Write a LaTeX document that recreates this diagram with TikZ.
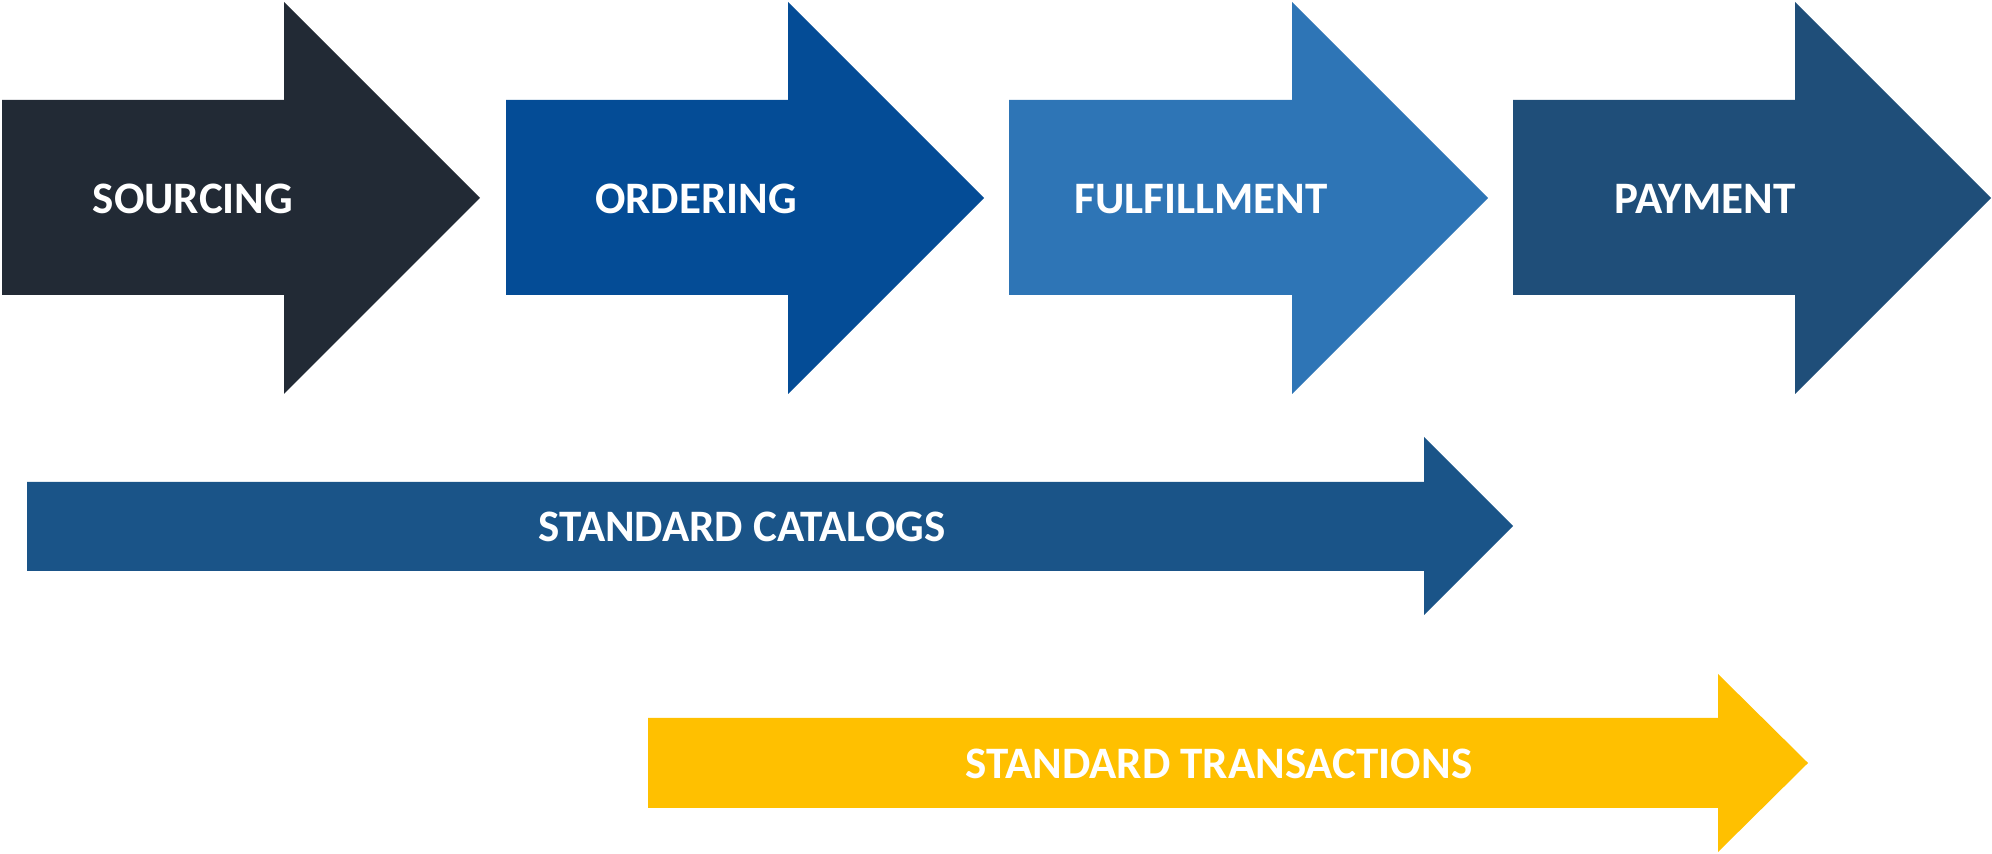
\documentclass[tikz,border=0pt]{standalone}
\usepackage{fontspec}
\setmainfont{Carlito}
\usepackage{tikz}

\definecolor{cSourcing}{HTML}{222A35}
\definecolor{cOrdering}{HTML}{044C96}
\definecolor{cFulfil}{HTML}{2E75B6}
\definecolor{cPayment}{HTML}{1F4E79}
\definecolor{cCatalog}{HTML}{1A5488}
\definecolor{cTrans}{HTML}{FFC000}

\begin{document}
\begin{tikzpicture}[x=0.5pt,y=-0.5pt,
	lbl/.style={text=white,inner sep=0pt,font=\fontsize{22.5}{27}\bfseries\selectfont}]

	\useasboundingbox (0,0) rectangle (1992,854);

	% process arrows
	\fill[cSourcing] (2,100) -- (284,100) -- (284,2) -- (480,198) -- (284,394) -- (284,295) -- (2,295) -- cycle;
	\fill[cOrdering] (506,100) -- (788,100) -- (788,2) -- (984,198) -- (788,394) -- (788,295) -- (506,295) -- cycle;
	\fill[cFulfil] (1009,100) -- (1292,100) -- (1292,2) -- (1488,198) -- (1292,394) -- (1292,295) -- (1009,295) -- cycle;
	\fill[cPayment] (1513,100) -- (1795,100) -- (1795,2) -- (1991,198) -- (1795,394) -- (1795,295) -- (1513,295) -- cycle;

	\node[lbl] (sourcing) at (193,199) {SOURCING};
	\node[lbl] (ordering) at (696,199) {ORDERING};
	\node[lbl] (fulfillment) at (1201,199) {FULFILLMENT};
	\node[lbl] (payment) at (1705,199) {PAYMENT};

	% standards
	\fill[cCatalog] (27,482) -- (1424,482) -- (1424,437) -- (1513,526) -- (1424,615) -- (1424,571) -- (27,571) -- cycle;
	\fill[cTrans] (648,718) -- (1718,718) -- (1718,674) -- (1808,763) -- (1718,852) -- (1718,808) -- (648,808) -- cycle;

	\node[lbl] (catalogs) at (742,527) {STANDARD CATALOGS};
	\node[lbl] (transactions) at (1219,764) {STANDARD TRANSACTIONS};

\end{tikzpicture}
\end{document}
